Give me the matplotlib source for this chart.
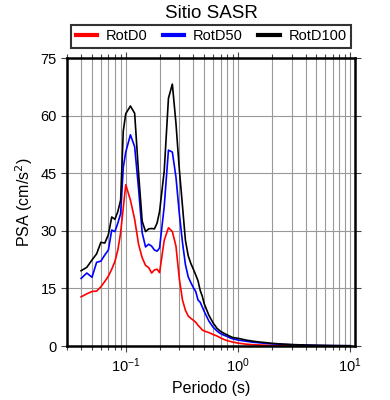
import matplotlib
matplotlib.use('Agg')
import matplotlib.pyplot as plt
import numpy as np

plt.rcParams['font.family'] = ['Liberation Sans', 'DejaVu Sans']

periodo = [0.040, 0.045, 0.050, 0.055, 0.060, 0.065, 0.070, 0.075, 0.080, 0.085,
           0.090, 0.095, 0.100, 0.110, 0.120, 0.130, 0.140, 0.150, 0.160, 0.170,
           0.180, 0.190, 0.200, 0.220, 0.240, 0.260, 0.280, 0.300, 0.320, 0.340,
           0.360, 0.380, 0.400, 0.420, 0.440, 0.460, 0.480, 0.500, 0.550, 0.600,
           0.650, 0.700, 0.750, 0.800, 0.850, 0.900, 0.950, 1.0, 1.2, 1.4,
           1.6, 1.8, 2.0, 2.5, 3.0, 4.0, 5.0, 6.0, 7.0, 8.0, 9.0, 10.0]

rotd100 = [19.6, 20.5, 22.4, 24.0, 27.0, 26.8, 29.0, 33.6, 33.0, 35.0,
           38.0, 56.0, 60.5, 62.5, 60.6, 45.0, 32.5, 29.8, 30.5, 30.6,
           30.5, 32.0, 35.0, 45.5, 64.5, 68.2, 58.0, 46.0, 36.5, 27.5,
           23.5, 21.5, 20.0, 18.5, 17.0, 14.5, 13.0, 11.0, 8.0, 6.0,
           4.6, 3.8, 3.3, 2.9, 2.5, 2.2, 2.1, 2.0, 1.5, 1.2,
           1.0, 0.85, 0.7, 0.5, 0.38, 0.25, 0.18, 0.14, 0.11, 0.09, 0.08, 0.07]

rotd50 = [17.6, 19.0, 17.9, 21.8, 22.1, 23.7, 25.0, 30.2, 29.8, 32.0,
          34.5, 46.5, 50.5, 55.0, 51.9, 41.0, 29.5, 25.8, 26.5, 26.0,
          25.0, 24.7, 25.5, 36.3, 51.0, 50.5, 44.0, 34.5, 27.0, 21.2,
          18.0, 16.5, 15.2, 14.2, 12.0, 11.4, 10.2, 9.0, 6.5, 4.9,
          3.9, 3.2, 2.8, 2.5, 2.1, 1.85, 1.7, 1.55, 1.2, 0.95,
          0.8, 0.68, 0.58, 0.42, 0.32, 0.22, 0.16, 0.12, 0.10, 0.08, 0.07, 0.06]

rotd0 = [12.8, 13.6, 14.2, 14.3, 15.4, 16.8, 18.2, 20.0, 22.0, 25.0,
         29.5, 36.0, 42.0, 38.0, 33.0, 26.5, 23.0, 21.0, 20.4, 19.0,
         19.8, 20.0, 19.1, 27.5, 30.8, 29.8, 26.0, 17.5, 12.0, 9.3,
         7.8, 7.2, 6.7, 6.2, 5.4, 4.8, 4.2, 3.9, 3.5, 3.0,
         2.6, 2.1, 1.7, 1.4, 1.2, 1.0, 0.9, 0.75, 0.45, 0.32,
         0.25, 0.2, 0.17, 0.12, 0.1, 0.08, 0.06, 0.05, 0.04, 0.035, 0.03, 0.03]

fig = plt.figure(figsize=(3.9, 4.0), dpi=100)
ax = fig.add_axes([0.172, 0.135, 0.738, 0.72])

ax.plot(periodo, rotd0, color='red', lw=1.2, label='RotD0')
ax.plot(periodo, rotd50, color='blue', lw=1.2, label='RotD50')
ax.plot(periodo, rotd100, color='black', lw=1.2, label='RotD100')

ax.set_xscale('log')
ax.set_xlim(0.03, 11)
ax.set_ylim(0, 75)
ax.set_yticks(np.arange(0, 76, 15))

ax.grid(True, which='both', axis='x', color='#999999', lw=0.8)
ax.grid(True, which='major', axis='y', color='#999999', lw=0.8)
ax.set_axisbelow(True)

ax.tick_params(which='both', direction='out', top=True, right=True,
               labelsize=10.5, width=0.8, color='#444444')
ax.tick_params(which='major', length=4)
ax.tick_params(which='minor', length=3)
for s in ax.spines.values():
    s.set_linewidth(1.8)

ax.set_xlabel('Periodo (s)', fontsize=11.5)
ax.set_ylabel('PSA (cm/s$^2$)', fontsize=11.5)
ax.set_title('Sitio SASR', fontsize=13.5, pad=29)

leg = ax.legend(loc='lower center', bbox_to_anchor=(0.5, 1.01), ncol=3,
                frameon=True, fancybox=False, edgecolor='black', fontsize=10.5,
                handlelength=1.5, handletextpad=0.6, columnspacing=1.0,
                borderpad=0.3)
leg.get_frame().set_linewidth(1.5)
for h in leg.legend_handles:
    h.set_linewidth(3)

fig.savefig('out.png', dpi=100)
